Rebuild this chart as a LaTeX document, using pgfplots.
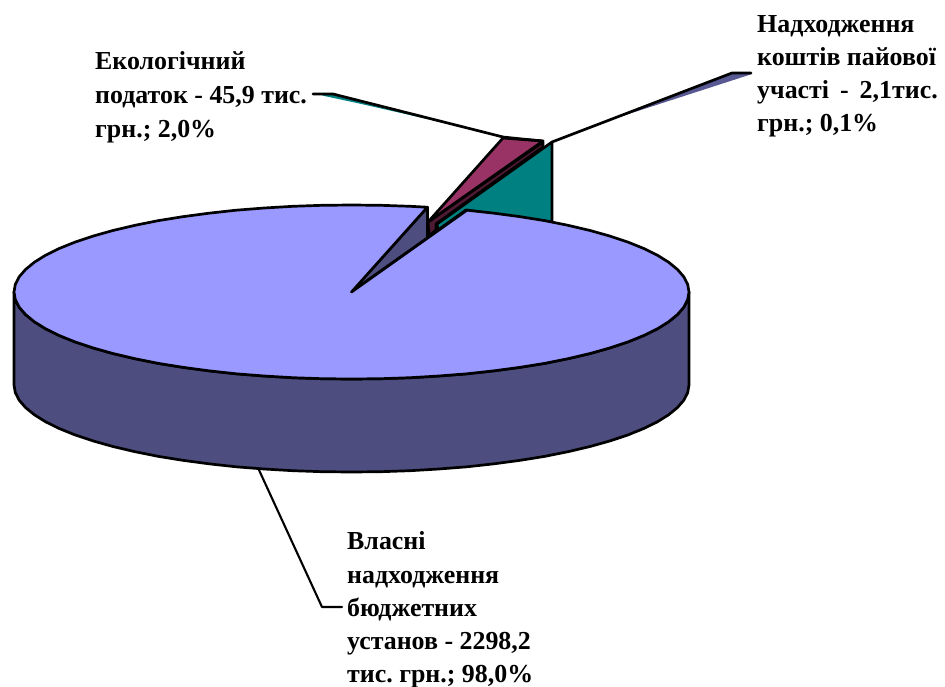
\documentclass[border=0pt]{standalone}
\usepackage{fontspec}
\setmainfont{Liberation Serif}
\usepackage{pgfplots}
\pgfplotsset{compat=1.18}

\definecolor{topblue}{HTML}{9999FF}
\definecolor{sideblue}{HTML}{4D4D80}
\definecolor{tealslice}{HTML}{008080}
\definecolor{maroontop}{HTML}{993366}
\definecolor{maroonside}{HTML}{4D1933}

\begin{document}
\frenchspacing
\begin{tikzpicture}[
    lbl/.style={anchor=base west, inner sep=0pt, font=\bfseries\fontsize{25.9}{26}\selectfont},
    edge/.style={draw=black, line width=2.7pt, line join=round, line cap=round},
  ]
  \useasboundingbox (0,0) rectangle (945pt,686pt);
  \begin{axis}[
    at={(0,0)}, anchor=south west,
    x=1pt, y=1pt,
    xmin=0, xmax=945, ymin=0, ymax=686,
    y dir=reverse,
    axis lines=none,
    clip=false,
    every axis plot/.append style={mark=none},
  ]
    % shadows under the leader lines
    \addplot[draw=none, fill=tealslice] coordinates {(322,95.5) (333,94) (480,131) (357,103)} -- cycle;
    \addplot[draw=none, fill=sideblue!85!topblue] coordinates {(752,74) (732,73) (610,120)} -- cycle;

    % teal slice (2,0%)
    \addplot[edge, fill=tealslice] coordinates {(552,142) (552,222) (466,210) (438,230) (437,224)} -- cycle;

    % maroon slice (0,1%)
    \addplot[edge, fill=maroonside] coordinates {(428,222) (543,142) (543,147) (436,224) (436,230) (429,236)} -- cycle;
    \addplot[edge, fill=maroontop] coordinates {(503,138) (543,141) (428,222)} -- cycle;

    % front wall of the big slice
    \addplot[edge, fill=sideblue] coordinates {
      (14,292) (15.3,299.6) (19.1,307.1) (25.5,314.5) (34.4,321.8) (45.6,328.8) (59.2,335.5)
      (75,341.9) (93,347.9) (112.9,353.5) (134.6,358.6) (157.9,363.3) (182.75,367.3) (208.9,370.8)
      (236.1,373.8) (264.2,376) (292.9,377.7) (322.1,378.7) (351.5,379) (380.9,378.7) (410.1,377.7)
      (438.8,376) (466.9,373.8) (494.1,370.8) (520.25,367.3) (545.1,363.3) (568.4,358.6) (590.1,353.5)
      (610,347.9) (628,341.9) (643.8,335.5) (657.4,328.8) (668.6,321.8) (677.5,314.5) (683.9,307.1)
      (687.7,299.6) (689,292)
      (689,385) (687.7,392.6) (683.9,400.1) (677.5,407.5) (668.6,414.8) (657.4,421.8) (643.8,428.5)
      (628,434.9) (610,440.9) (590.1,446.5) (568.4,451.6) (545.1,456.3) (520.25,460.3) (494.1,463.8)
      (466.9,466.8) (438.8,469) (410.1,470.7) (380.9,471.7) (351.5,472) (322.1,471.7) (292.9,470.7)
      (264.2,469) (236.1,466.8) (208.9,463.8) (182.75,460.3) (157.9,456.3) (134.6,451.6) (112.9,446.5)
      (93,440.9) (75,434.9) (59.2,428.5) (45.6,421.8) (34.4,414.8) (25.5,407.5) (19.1,400.1)
      (15.3,392.6) (14,385)
    } -- cycle;

    % inner wall at the cut
    \addplot[edge, fill=sideblue] coordinates {(351,292) (427.4,207.2) (427.4,238)} -- cycle;

    % top face of the big slice (98,0%)
    \addplot[edge, fill=topblue] coordinates {
      (351.5,292)
      (427.4,207.2) (410.1,206.3) (380.9,205.3) (351.5,205) (322.1,205.3) (292.9,206.3) (264.2,208)
      (236.1,210.2) (208.9,213.2) (182.75,216.7) (157.9,220.7) (134.6,225.4) (112.9,230.5) (93,236.1)
      (75,242.1) (59.2,248.5) (45.6,255.2) (34.4,262.2) (25.5,269.5) (19.1,276.9) (15.3,284.4) (14,292)
      (15.3,299.6) (19.1,307.1) (25.5,314.5) (34.4,321.8) (45.6,328.8) (59.2,335.5) (75,341.9) (93,347.9)
      (112.9,353.5) (134.6,358.6) (157.9,363.3) (182.75,367.3) (208.9,370.8) (236.1,373.8) (264.2,376)
      (292.9,377.7) (322.1,378.7) (351.5,379) (380.9,378.7) (410.1,377.7) (438.8,376) (466.9,373.8)
      (494.1,370.8) (520.25,367.3) (545.1,363.3) (568.4,358.6) (590.1,353.5) (610,347.9) (628,341.9)
      (643.8,335.5) (657.4,328.8) (668.6,321.8) (677.5,314.5) (683.9,307.1) (687.7,299.6) (689,292)
      (687.7,284.4) (683.9,276.9) (677.5,269.5) (668.6,262.2) (657.4,255.2) (643.8,248.5) (628,242.1)
      (610,236.1) (590.1,230.5) (568.4,225.4) (545.1,220.7) (520.25,216.7) (494.1,213.2) (466.9,210.2)
    } -- cycle;

    % leader lines
    \addplot[edge] coordinates {(313,94) (333,94) (503,137) (522,139) (543,141)};
    \addplot[edge] coordinates {(552,142) (732,73) (751,73)};
    \addplot[edge, line width=2.1pt] coordinates {(259,470) (322,607) (342,607)};

    % labels
    \node[lbl] at (axis cs:757,32) {Надходження};
    \node[lbl] at (axis cs:757,65) {коштів пайової};
    \node[lbl] at (axis cs:757,98) {участі\hspace{11pt}-\hspace{11pt}2,1тис.};
    \node[lbl] at (axis cs:757,131) {грн.; 0,1\%};

    \node[lbl] at (axis cs:95,69) {Екологічний};
    \node[lbl] at (axis cs:95,103) {податок - 45,9 тис.};
    \node[lbl] at (axis cs:95,137) {грн.; 2,0\%};

    \node[lbl] at (axis cs:347,549) {Власні};
    \node[lbl] at (axis cs:347,583) {надходження};
    \node[lbl] at (axis cs:347,616) {бюджетних};
    \node[lbl] at (axis cs:347,649) {установ - 2298,2};
    \node[lbl] at (axis cs:347,682) {тис. грн.; 98,0\%};
  \end{axis}
\end{tikzpicture}
\end{document}
